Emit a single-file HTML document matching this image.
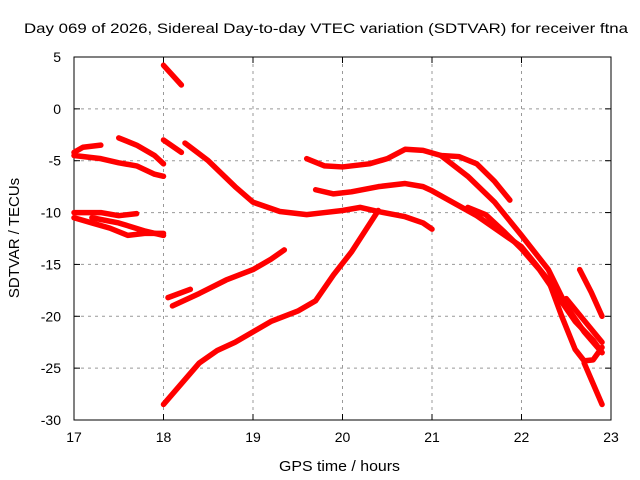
<!DOCTYPE html>
<html><head><meta charset="utf-8"><style>
body{margin:0;background:#fff}
svg{display:block;font-family:"Liberation Sans",sans-serif}
</style></head><body>
<svg id="chart" width="640" height="480"></svg>
<script>
const xTicks=[17,18,19,20,21,22,23];
const yTicks=[5,0,-5,-10,-15,-20,-25,-30];
const seriesA=[[17.0,-4.5],[17.3,-4.8],[17.5,-5.2],[17.7,-5.5],[17.9,-6.3],[18.0,-6.5]];
const seriesB=[[17.0,-4.2],[17.1,-3.7],[17.3,-3.5]];
const seriesC=[[17.5,-2.8],[17.7,-3.5],[17.9,-4.5],[18.0,-5.3]];
const seriesD1=[[17.0,-10.5],[17.2,-11],[17.4,-11.5],[17.6,-12.2],[17.8,-12],[18.0,-12]];
const seriesD2=[[17.0,-10],[17.3,-10],[17.5,-10.3],[17.7,-10.1]];
const seriesD3=[[17.2,-10.5],[17.5,-11],[17.8,-11.8],[18.0,-12.2]];
const seriesE=[[18.0,4.2],[18.2,2.3]];
const seriesF=[[18.0,-3],[18.2,-4.2]];
const seriesG=[[18.24,-3.3],[18.5,-5],[18.8,-7.5],[19.0,-9],[19.3,-9.9],[19.6,-10.2],[19.8,-10],[20.0,-9.8],[20.2,-9.5],[20.4,-9.9],[20.7,-10.4],[20.9,-11],[21.0,-11.6]];
const seriesH=[[18.05,-18.2],[18.3,-17.4]];
const seriesI=[[18.1,-19],[18.4,-17.8],[18.7,-16.5],[19.0,-15.5],[19.2,-14.5],[19.35,-13.6]];
const seriesJ=[[18.0,-28.5],[18.2,-26.5],[18.4,-24.5],[18.6,-23.3],[18.8,-22.5],[19.0,-21.5],[19.2,-20.5],[19.5,-19.5],[19.7,-18.5],[19.9,-16],[20.1,-13.8],[20.25,-11.8],[20.4,-9.8]];
const seriesK=[[19.6,-4.8],[19.8,-5.5],[20.0,-5.6],[20.3,-5.3],[20.5,-4.8],[20.7,-3.9],[20.9,-4],[21.1,-4.5],[21.3,-4.6],[21.5,-5.3],[21.7,-7],[21.87,-8.8]];
const seriesL=[[21.1,-4.5],[21.4,-6.5],[21.7,-9],[22.0,-12.2],[22.3,-15.5],[22.5,-19],[22.7,-21.5],[22.9,-23.5]];
const seriesM=[[19.7,-7.8],[19.9,-8.2],[20.1,-8],[20.4,-7.5],[20.7,-7.2],[20.9,-7.5],[21.0,-7.9],[21.5,-10.3],[22.0,-13.3],[22.3,-16.5],[22.45,-20],[22.6,-23.2],[22.7,-24.3],[22.8,-24.2],[22.9,-23]];
const seriesN=[[21.4,-9.5],[21.6,-10.2],[21.8,-11.8],[22.0,-13.5],[22.2,-15.5],[22.4,-18],[22.6,-20.5],[22.8,-22.3],[22.9,-23.5]];
const seriesO=[[22.7,-24.5],[22.8,-26.5],[22.9,-28.5]];
const seriesP=[[22.65,-15.5],[22.78,-17.7],[22.9,-20]];
const seriesQ=[[22.5,-18.3],[22.7,-20.4],[22.9,-22.5]];
const allSeries=[seriesA,seriesB,seriesC,seriesD1,seriesD2,seriesD3,seriesE,seriesF,seriesG,seriesH,seriesI,seriesJ,seriesK,seriesL,seriesM,seriesN,seriesO,seriesP,seriesQ];

const L=74,R=611,T=57,B=420;
const X=t=>L+(t-17)/6*(R-L);
const Y=v=>T+(5-v)/35*(B-T);
const svg=document.getElementById('chart');
const NS='http://www.w3.org/2000/svg';
function mk(tag,attrs,parent){const e=document.createElementNS(NS,tag);for(const k in attrs)e.setAttribute(k,attrs[k]);(parent||svg).appendChild(e);return e;}

let e=mk('text',{x:24,y:33,'font-size':'14',fill:'#000',textLength:'604',lengthAdjust:'spacingAndGlyphs'});
e.textContent='Day 069 of 2026, Sidereal Day-to-day VTEC variation (SDTVAR) for receiver ftna';



xTicks.forEach(t=>{
  const x=X(t);
  if(t>17&&t<23){const g=mk('line',{x1:x,x2:x,y1:T,y2:B,stroke:'#999','stroke-dasharray':'3,4'});
  
  }
  mk('line',{x1:x,x2:x,y1:B,y2:B-6,stroke:'#000'});
  mk('line',{x1:x,x2:x,y1:T,y2:T+6,stroke:'#000'});
  const l=mk('text',{x:x,y:442,'text-anchor':'middle','font-size':'14'});
  l.textContent=t;
  
  
});
yTicks.forEach(v=>{
  const y=Y(v);
  if(v<5&&v>-30){const g=mk('line',{x1:L,x2:R,y1:y,y2:y,stroke:'#999','stroke-dasharray':'3,4'});
  
  }
  mk('line',{x1:L,x2:L+6,y1:y,y2:y,stroke:'#000'});
  mk('line',{x1:R,x2:R-6,y1:y,y2:y,stroke:'#000'});
  const l=mk('text',{x:61,y:y+5,'text-anchor':'end','font-size':'14'});
  l.textContent=v;
  
  
});
const fr=mk('rect',{x:L,y:T,width:R-L,height:B-T,fill:'none',stroke:'#000'});



allSeries.forEach(s=>{
  const p=mk('polyline',{points:s.map(d=>X(d[0])+','+Y(d[1])).join(' '),fill:'none',stroke:'#f00','stroke-width':'5.5','stroke-linejoin':'round','stroke-linecap':'round'});
  
  
});

e=mk('text',{x:279,y:471,'font-size':'15',textLength:'121',lengthAdjust:'spacingAndGlyphs'});
e.textContent='GPS time / hours';


e=mk('text',{x:0,y:0,'text-anchor':'middle','font-size':'15',transform:'translate(19,238) rotate(-90)'});
e.textContent='SDTVAR / TECUs';


</script>
</body></html>
